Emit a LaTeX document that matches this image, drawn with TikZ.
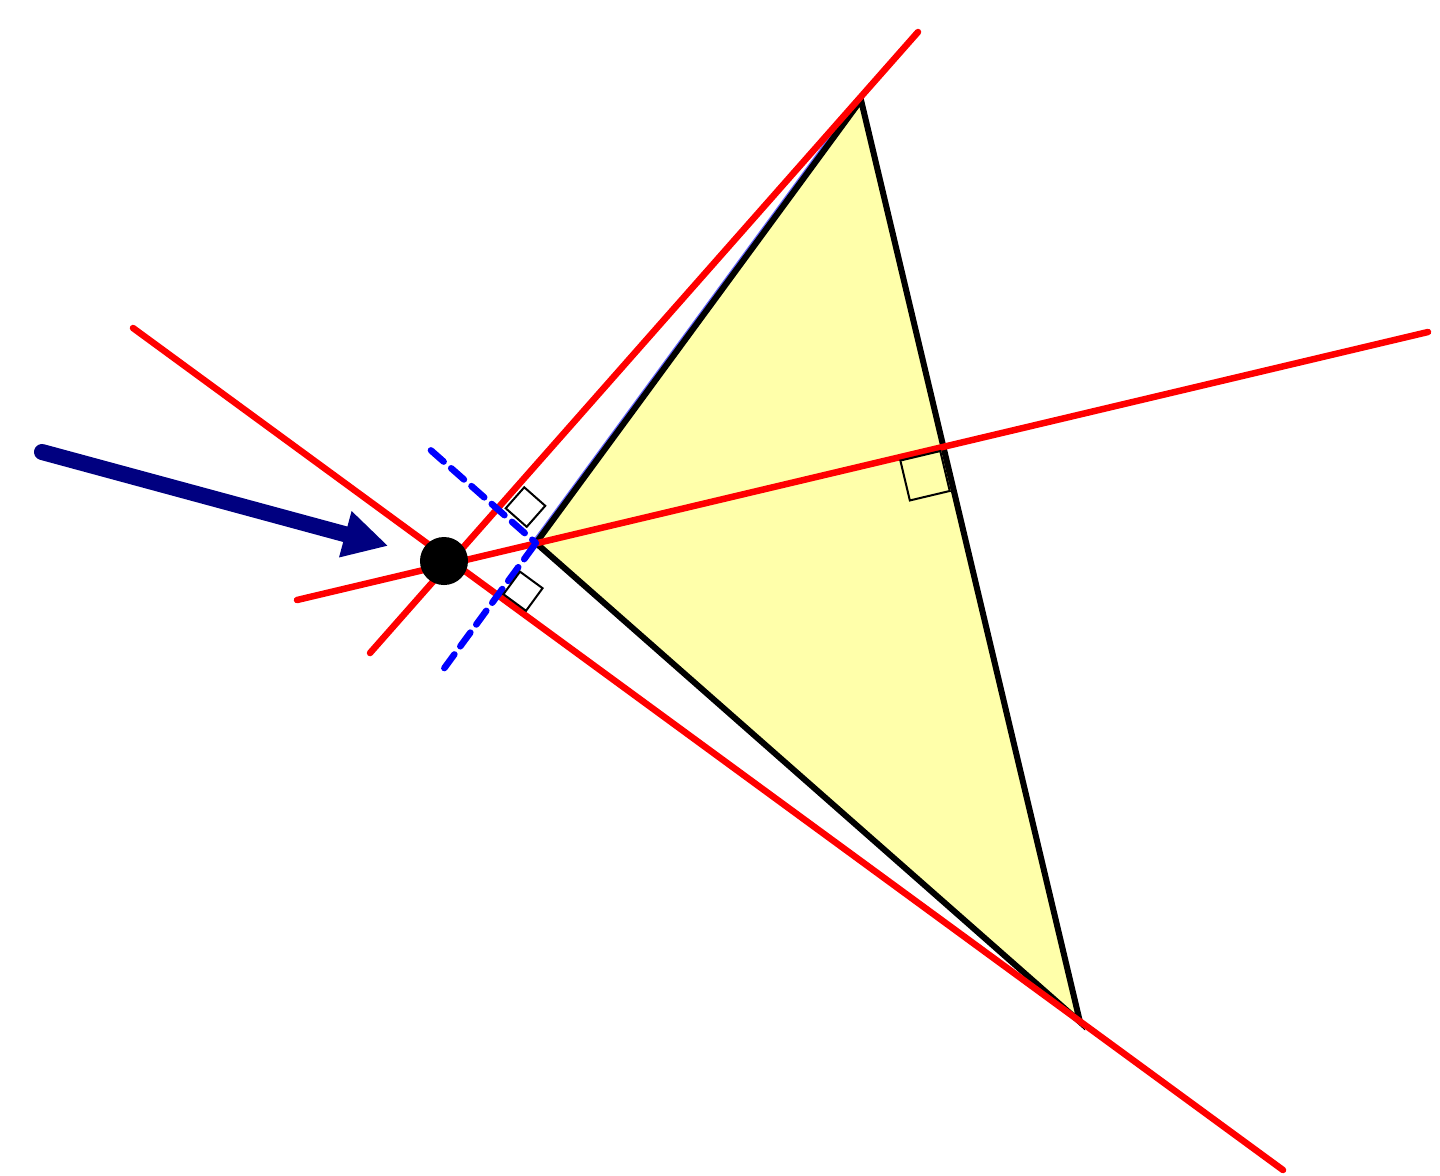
\documentclass[tikz,border=0pt]{standalone}
\usetikzlibrary{calc,arrows.meta}
\definecolor{triyellow}{RGB}{255,255,170}
\definecolor{arrownavy}{RGB}{0,0,128}
\definecolor{linered}{RGB}{255,0,0}
\definecolor{lineblue}{RGB}{0,0,255}
\tikzset{
  redline/.style={draw=linered, line width=0.065cm, line cap=round},
  triedge/.style={draw=black, line width=0.06cm, fill=triyellow, line join=miter},
  blueline/.style={draw=lineblue, line width=0.065cm, line cap=round, dash pattern=on 0.17cm off 0.1cm},
  ramk/.style={draw=black, line width=0.02cm},
  navyarrow/.style={draw=arrownavy, line width=0.16cm, line cap=round, -{Triangle[length=0.445cm,width=0.446cm]}},
  dotnode/.style={circle, fill=black, inner sep=0pt, minimum size=0.48cm}
}
\newcommand{\ramark}[5]{%
  \draw[ramk] ($(#1)!#4!(#2)+(#1)!#4!(#3)-(#1)$) -- ($(#1)!#5!(#2)+(#1)!#4!(#3)-(#1)$)
   -- ($(#1)!#5!(#2)+(#1)!#5!(#3)-(#1)$) -- ($(#1)!#4!(#2)+(#1)!#5!(#3)-(#1)$) -- cycle;}
\begin{document}
\begin{tikzpicture}[x=0.01cm,y=-0.01cm]
\useasboundingbox (0,0) rectangle (1440,1175);
% triangle vertices and point
\coordinate (A) at (861,100);
\coordinate (B) at (536,543);
\coordinate (C) at (1080,1022);
\coordinate (Pc) at (444,561);
% red line ends
\coordinate (L1a) at (133,328);  \coordinate (L1b) at (1283,1170);
\coordinate (L2a) at (297,600);  \coordinate (L2b) at (1428,332);
\coordinate (L3a) at (370,653);  \coordinate (L3b) at (918,32);
% feet
\coordinate (F3) at ($(L3a)!(B)!(L3b)$);
\coordinate (F1) at ($(L1a)!(B)!(L1b)$);
\coordinate (F2) at ($(A)!(B)!(C)$);
% triangle
\draw[lineblue!60, line width=0.06cm] ($(B)+(-1,-0.7)$) -- ($(A)+(-1,-0.7)$);
\filldraw[triedge] (A) -- (B) -- (C) -- cycle;
% red lines
\draw[redline] (L1a) -- (L1b);
\draw[redline] (L2a) -- (L2b);
\draw[redline] (L3a) -- (L3b);
% blue perpendiculars
\coordinate (E3) at ($(B)!1.4cm!(F3)$);
\coordinate (E1) at ($(B)!1.55cm!(F1)$);
\draw[blueline] (E3) -- (B);
\draw[blueline] (E1) -- (B);
% right-angle marks
\ramark{F3}{L3b}{B}{0.06cm}{0.34cm}
\ramark{F1}{L1b}{B}{0.04cm}{0.32cm}
\ramark{F2}{B}{C}{0.04cm}{0.45cm}
% point and arrow
\node[dotnode] (P) at (Pc) {};
\coordinate (S) at (42,452);
\draw[navyarrow, shorten >=0.33cm] (S) -- (P);
\end{tikzpicture}
\end{document}
